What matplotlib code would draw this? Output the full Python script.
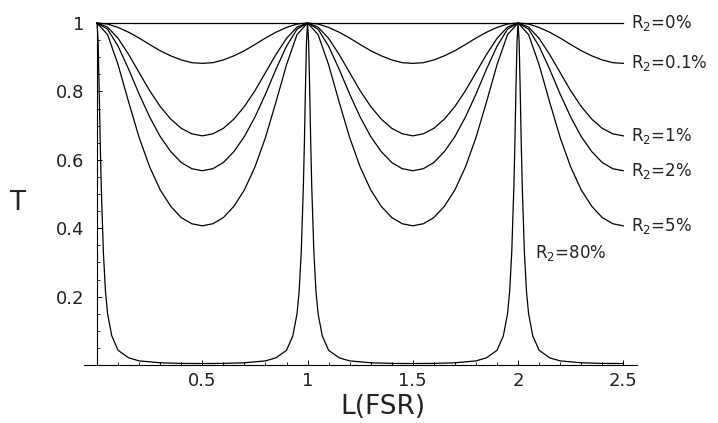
import matplotlib
matplotlib.use("Agg")
import matplotlib.pyplot as plt
from matplotlib.ticker import FixedLocator, FixedFormatter

# ---- data ----
L_smooth = [0.00, 0.05, 0.10, 0.15, 0.20, 0.25, 0.30, 0.35, 0.40, 0.45, 0.50,
            0.55, 0.60, 0.65, 0.70, 0.75, 0.80, 0.85, 0.90, 0.95, 1.00,
            1.05, 1.10, 1.15, 1.20, 1.25, 1.30, 1.35, 1.40, 1.45, 1.50,
            1.55, 1.60, 1.65, 1.70, 1.75, 1.80, 1.85, 1.90, 1.95, 2.00,
            2.05, 2.10, 2.15, 2.20, 2.25, 2.30, 2.35, 2.40, 2.45, 2.50]

T_r0 = [1.0, 1.0]
L_r0 = [0.0, 2.5]

T_r01 = [1.000, 0.997, 0.987, 0.973, 0.956, 0.937, 0.919, 0.904, 0.892, 0.884, 0.882,
         0.884, 0.892, 0.904, 0.919, 0.937, 0.956, 0.973, 0.987, 0.997, 1.000,
         0.997, 0.987, 0.973, 0.956, 0.937, 0.919, 0.904, 0.892, 0.884, 0.882,
         0.884, 0.892, 0.904, 0.919, 0.937, 0.956, 0.973, 0.987, 0.997, 1.000,
         0.997, 0.987, 0.973, 0.956, 0.937, 0.919, 0.904, 0.892, 0.884, 0.882]

T_r1 = [1.000, 0.988, 0.955, 0.908, 0.855, 0.802, 0.756, 0.719, 0.692, 0.676, 0.670,
        0.676, 0.692, 0.719, 0.756, 0.802, 0.855, 0.908, 0.955, 0.988, 1.000,
        0.988, 0.955, 0.908, 0.855, 0.802, 0.756, 0.719, 0.692, 0.676, 0.670,
        0.676, 0.692, 0.719, 0.756, 0.802, 0.855, 0.908, 0.955, 0.988, 1.000,
        0.988, 0.955, 0.908, 0.855, 0.802, 0.756, 0.719, 0.692, 0.676, 0.670]

T_r2 = [1.000, 0.982, 0.932, 0.865, 0.792, 0.725, 0.668, 0.624, 0.592, 0.574, 0.568,
        0.574, 0.592, 0.624, 0.668, 0.725, 0.792, 0.865, 0.932, 0.982, 1.000,
        0.982, 0.932, 0.865, 0.792, 0.725, 0.668, 0.624, 0.592, 0.574, 0.568,
        0.574, 0.592, 0.624, 0.668, 0.725, 0.792, 0.865, 0.932, 0.982, 1.000,
        0.982, 0.932, 0.865, 0.792, 0.725, 0.668, 0.624, 0.592, 0.574, 0.568]

T_r5 = [1.000, 0.966, 0.878, 0.769, 0.665, 0.579, 0.512, 0.464, 0.431, 0.413, 0.407,
        0.413, 0.431, 0.464, 0.512, 0.579, 0.665, 0.769, 0.878, 0.966, 1.000,
        0.966, 0.878, 0.769, 0.665, 0.579, 0.512, 0.464, 0.431, 0.413, 0.407,
        0.413, 0.431, 0.464, 0.512, 0.579, 0.665, 0.769, 0.878, 0.966, 1.000,
        0.966, 0.878, 0.769, 0.665, 0.579, 0.512, 0.464, 0.431, 0.413, 0.407]

L_r80 = [0.0, 0.005, 0.01, 0.015, 0.02, 0.03, 0.04, 0.05, 0.07, 0.1, 0.15, 0.2, 0.3, 0.4, 0.5,
         0.6, 0.7, 0.8, 0.85, 0.9, 0.93, 0.95, 0.96, 0.97, 0.98, 0.985, 0.99, 0.995, 1.0,
         1.005, 1.01, 1.015, 1.02, 1.03, 1.04, 1.05, 1.07, 1.1, 1.15, 1.2, 1.3, 1.4, 1.5,
         1.6, 1.7, 1.8, 1.85, 1.9, 1.93, 1.95, 1.96, 1.97, 1.98, 1.985, 1.99, 1.995, 2.0,
         2.005, 2.01, 2.015, 2.02, 2.03, 2.04, 2.05, 2.07, 2.1, 2.15, 2.2, 2.3, 2.4, 2.5]
T_r80 = [1.0, 0.945, 0.81, 0.65, 0.52, 0.33, 0.215, 0.15, 0.085, 0.043, 0.021, 0.012, 0.0065, 0.0047, 0.0043,
         0.0047, 0.0065, 0.012, 0.021, 0.043, 0.085, 0.15, 0.215, 0.33, 0.52, 0.65, 0.81, 0.945, 1.0,
         0.945, 0.81, 0.65, 0.52, 0.33, 0.215, 0.15, 0.085, 0.043, 0.021, 0.012, 0.0065, 0.0047, 0.0043,
         0.0047, 0.0065, 0.012, 0.021, 0.043, 0.085, 0.15, 0.215, 0.33, 0.52, 0.65, 0.81, 0.945, 1.0,
         0.945, 0.81, 0.65, 0.52, 0.33, 0.215, 0.15, 0.085, 0.043, 0.021, 0.012, 0.0065, 0.0047, 0.0043]

labels = ["0%", "0.1%", "1%", "2%", "5%"]
x_major = [0.5, 1.0, 1.5, 2.0, 2.5]
x_major_labels = ["0.5", "1", "1.5", "2", "2.5"]
y_major = [0.2, 0.4, 0.6, 0.8, 1.0]
y_major_labels = ["0.2", "0.4", "0.6", "0.8", "1"]
x_minor = [0.1, 0.2, 0.3, 0.4, 0.6, 0.7, 0.8, 0.9, 1.1, 1.2, 1.3, 1.4,
           1.6, 1.7, 1.8, 1.9, 2.1, 2.2, 2.3, 2.4]
y_minor = [0.05, 0.1, 0.15, 0.25, 0.3, 0.35, 0.45, 0.5, 0.55, 0.65, 0.7, 0.75,
           0.85, 0.9, 0.95]

plt.rcParams['font.family'] = ['DejaVu Sans']

fig = plt.figure(figsize=(7.18, 4.23), dpi=100)
ax = fig.add_axes([84 / 718, 58 / 423, 553 / 718, 342 / 423])
ax.set_xlim(-0.062, 2.565)
ax.set_ylim(0, 1.0)

lw = 0.9
ax.plot(L_r0, T_r0, color='black', lw=lw, clip_on=False)
for T in (T_r01, T_r1, T_r2, T_r5):
    ax.plot(L_smooth, T, color='black', lw=lw, clip_on=False)
ax.plot(L_r80, T_r80, color='black', lw=lw, clip_on=False)

# curve labels
ends = [T_r0[-1], T_r01[-1], T_r1[-1], T_r2[-1], T_r5[-1]]
for lab, yv in zip(labels, ends):
    ax.text(2.535, yv, r'$\mathregular{R_2}$=' + lab, fontsize=12, va='center',
            ha='left', color='#222222', clip_on=False)
ax.text(2.08, 0.327, r'$\mathregular{R_2}$=80%', fontsize=12, va='center',
        ha='left', color='#222222')

# axes styling
for s in ('top', 'right'):
    ax.spines[s].set_visible(False)
ax.spines['left'].set_position(('data', 0))
ax.spines['bottom'].set_position(('data', 0))
ax.spines['left'].set_linewidth(0.8)
ax.spines['bottom'].set_linewidth(0.8)

ax.xaxis.set_major_locator(FixedLocator(x_major))
ax.xaxis.set_major_formatter(FixedFormatter(x_major_labels))
ax.yaxis.set_major_locator(FixedLocator(y_major))
ax.yaxis.set_major_formatter(FixedFormatter(y_major_labels))
ax.xaxis.set_minor_locator(FixedLocator(x_minor))
ax.yaxis.set_minor_locator(FixedLocator(y_minor))
ax.tick_params(which='major', direction='in', length=3.5, width=0.7,
               labelsize=13, colors='black', labelcolor='#222222')
ax.tick_params(which='minor', direction='in', length=2, width=0.6)
ax.tick_params(axis='y', which='major', pad=9)
ax.tick_params(axis='x', which='major', pad=5)

fig.text(17 / 718, 1 - 203 / 423, 'T', fontsize=19, ha='center', va='center',
         color='#222222')
fig.text(383 / 718, 1 - 407 / 423, 'L(FSR)', fontsize=19, ha='center',
         va='center', color='#222222')

fig.savefig('out.png', dpi=100)
